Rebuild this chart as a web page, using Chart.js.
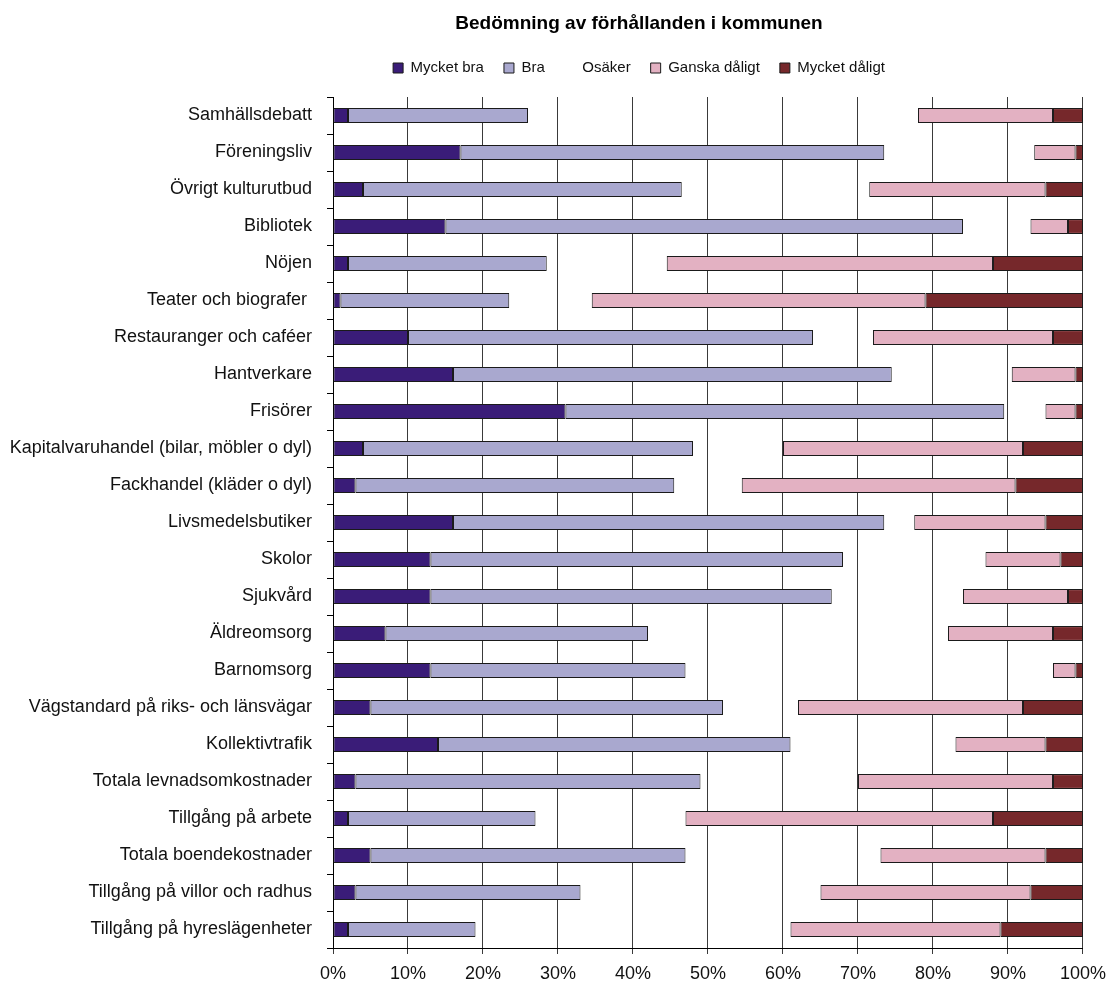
<!DOCTYPE html>
<html>
<head>
<meta charset="utf-8">
<script src="https://cdn.jsdelivr.net/npm/chart.js@4"></script>
<style>
  html, body { margin: 0; padding: 0; background: #fff; }
  #wrap { width: 1115px; height: 983px; }
</style>
</head>
<body>
<div id="wrap"><canvas id="chart" width="1115" height="983"></canvas></div>
<script>
// data (percent of answers per row)
let categories = ['Samhällsdebatt', 'Föreningsliv', 'Övrigt kulturutbud', 'Bibliotek', 'Nöjen',
                  'Teater och biografer ', 'Restauranger och caféer', 'Hantverkare', 'Frisörer',
                  'Kapitalvaruhandel (bilar, möbler o dyl)', 'Fackhandel (kläder o dyl)', 'Livsmedelsbutiker',
                  'Skolor', 'Sjukvård', 'Äldreomsorg', 'Barnomsorg', 'Vägstandard på riks- och länsvägar',
                  'Kollektivtrafik', 'Totala levnadsomkostnader', 'Tillgång på arbete', 'Totala boendekostnader',
                  'Tillgång på villor och radhus', 'Tillgång på hyreslägenheter']

let mycketBra    = [2, 17, 4, 15, 2, 1, 10, 16, 31, 4, 3, 16, 13, 13, 7, 13, 5, 14, 3, 2, 5, 3, 2]
let bra          = [24, 56.5, 42.5, 69, 26.5, 22.5, 54, 58.5, 58.5, 44, 42.5, 57.5, 55, 53.5, 35, 34, 47, 47, 46, 25, 42, 30, 17]
let osaker       = [52, 20, 25, 9, 16, 11, 8, 16, 5.5, 12, 9, 4, 19, 17.5, 40, 49, 10, 22, 21, 20, 26, 32, 42]
let ganskaDaligt = [18, 5.5, 23.5, 5, 43.5, 44.5, 24, 8.5, 4, 32, 36.5, 17.5, 10, 14, 14, 3, 30, 12, 26, 41, 22, 28, 28]
let mycketDaligt = [4, 1, 5, 2, 12, 21, 4, 1, 1, 8, 9, 5, 3, 2, 4, 1, 8, 5, 4, 12, 5, 7, 11]

let seriesNames = ['Mycket bra', 'Bra', 'Osäker', 'Ganska dåligt', 'Mycket dåligt']
let xTicks = [0, 10, 20, 30, 40, 50, 60, 70, 80, 90, 100]

// styling
let colors = ['#3a1c78', '#a9a8cf', 'rgba(0,0,0,0)', '#e3b1c2', '#76282b']
let edge = '#1a1a1a'
let fontFamily = '"Liberation Sans", Arial, Helvetica, sans-serif'

Chart.defaults.font.family = fontFamily
Chart.defaults.color = '#111'

// the y labels are drawn "mirrored" so they are not clipped to the narrow axis box,
// so measure the widest one to right-align them next to the axis
let measure = document.createElement('canvas').getContext('2d')
measure.font = '18px ' + fontFamily
let widestLabel = Math.max(...categories.map(c => measure.measureText(c).width))

let values = [mycketBra, bra, osaker, ganskaDaligt, mycketDaligt]
let datasets = seriesNames.map((name, i) => ({
    label: name,
    data: values[i],
    backgroundColor: colors[i],
    borderColor: i == 2 ? 'rgba(0,0,0,0)' : edge,
    borderWidth: i == 2 ? 0 : 1,
    borderSkipped: false,
    barPercentage: 0.4,
    categoryPercentage: 1
}))

let ctx = document.getElementById('chart').getContext('2d')
let chart = new Chart(ctx, {
    type: 'bar',
    data: { labels: categories, datasets: datasets },
    options: {
        indexAxis: 'y',
        responsive: false,
        animation: false,
        layout: { padding: { left: 192, right: 29, top: 0, bottom: 0 } },
        plugins: {
            title: {
                display: true,
                text: 'Bedömning av förhållanden i kommunen',
                color: '#000',
                font: { size: 19, weight: 'bold' },
                padding: { top: 12, bottom: 5.7 }
            },
            // empty spacer between legend and plot
            subtitle: {
                display: true,
                text: ' ',
                weight: 500,
                font: { size: 1 },
                padding: { top: 0, bottom: 10.3 }
            },
            legend: {
                display: true,
                position: 'top',
                labels: {
                    boxWidth: 10,
                    boxHeight: 10,
                    padding: 20,
                    color: '#111',
                    font: { size: 15 }
                }
            },
            tooltip: { enabled: false }
        },
        scales: {
            x: {
                stacked: true,
                min: 0,
                max: 100,
                afterBuildTicks: (scale) => { scale.ticks = xTicks.map(v => ({ value: v })) },
                afterFit: (scale) => { scale.height = 35 },
                ticks: {
                    callback: (v) => v + '%',
                    font: { size: 18 },
                    color: '#111',
                    padding: 9,
                    maxRotation: 0
                },
                grid: { color: '#3a3a3a', lineWidth: 1, tickLength: 6, tickColor: '#3a3a3a' },
                border: { color: '#000', width: 1 }
            },
            y: {
                stacked: true,
                afterFit: (scale) => { scale.width = 333 - 192 },
                ticks: {
                    font: { size: 18 },
                    color: '#111',
                    mirror: true,
                    crossAlign: 'far',
                    padding: -21 - widestLabel,
                    autoSkip: false
                },
                grid: { drawOnChartArea: false, offset: true, tickLength: 6, tickColor: '#000' },
                border: { color: '#000', width: 1 }
            }
        }
    }
})
</script>
</body>
</html>
